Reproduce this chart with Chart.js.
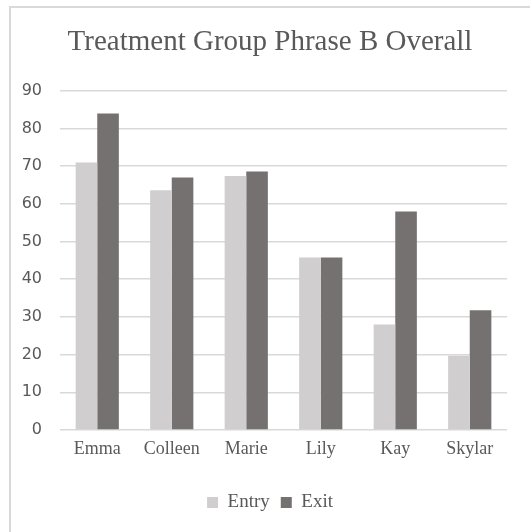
<!DOCTYPE html>
<html>
<head>
<meta charset="utf-8">
<script src="https://cdn.jsdelivr.net/npm/chart.js@4.4.1/dist/chart.umd.min.js"></script>
<style>
  html, body { margin: 0; padding: 0; background: #ffffff; }
  #wrap { position: relative; width: 530px; height: 532px; overflow: hidden; }
  #frame { position: absolute; left: 9px; top: 6px; width: 700px; height: 700px;
           border-top: 2px solid #d9d9d9; border-left: 2px solid #d9d9d9; box-sizing: border-box; }
  #c { position: absolute; left: 0; top: 0; }
</style>
</head>
<body>
<div id="wrap">
  <div id="frame"></div>
  <canvas id="c" width="530" height="532"></canvas>
</div>
<script>
const categories = ["Emma", "Colleen", "Marie", "Lily", "Kay", "Skylar"];
const entryValues = [71, 63.6, 67.4, 45.8, 28, 19.7];
const exitValues = [84, 67, 68.6, 45.8, 58, 31.8];
const yTicks = [0, 10, 20, 30, 40, 50, 60, 70, 80, 90];

const textColor = "#595959";
const serif = "'Liberation Serif', 'Times New Roman', serif";
const sans = "'DejaVu Sans', sans-serif";

new Chart(document.getElementById("c"), {
  type: "bar",
  data: {
    labels: categories,
    datasets: [
      { label: "Entry", data: entryValues, backgroundColor: "#d0cece", borderWidth: 0 },
      { label: "Exit", data: exitValues, backgroundColor: "#767171", borderWidth: 0 }
    ]
  },
  options: {
    responsive: false,
    animation: false,
    devicePixelRatio: 1,
    layout: { padding: { left: 10, right: 0, top: 0, bottom: 10 } },
    datasets: { bar: { barPercentage: 1, categoryPercentage: 0.58 } },
    plugins: {
      title: {
        display: true,
        text: "Treatment Group Phrase B Overall",
        color: textColor,
        font: { family: serif, size: 29, weight: "normal" },
        padding: { top: 25, bottom: 31 }
      },
      legend: {
        display: true,
        position: "bottom",
        labels: {
          color: textColor,
          font: { family: serif, size: 19 },
          boxWidth: 11,
          boxHeight: 11,
          padding: 11
        }
      },
      tooltip: { enabled: false }
    },
    scales: {
      x: {
        grid: { display: false },
        border: { display: false },
        ticks: { color: textColor, font: { family: serif, size: 18 }, padding: 0 },
        afterFit: (s) => { s.height = 52; }
      },
      y: {
        min: 0,
        max: 90,
        afterBuildTicks: (s) => { s.ticks = yTicks.map(v => ({ value: v })); },
        grid: { color: "#d9d9d9", lineWidth: 1.5, drawTicks: false },
        border: { display: false },
        ticks: { color: textColor, font: { family: sans, size: 16 }, padding: 18 },
        afterFit: (s) => { s.width = 50; }
      },
      spacer: {
        position: "right",
        display: true,
        grid: { display: false },
        border: { display: false },
        ticks: { display: false },
        afterFit: (s) => { s.width = 23; }
      }
    }
  }
});
</script>
</body>
</html>
